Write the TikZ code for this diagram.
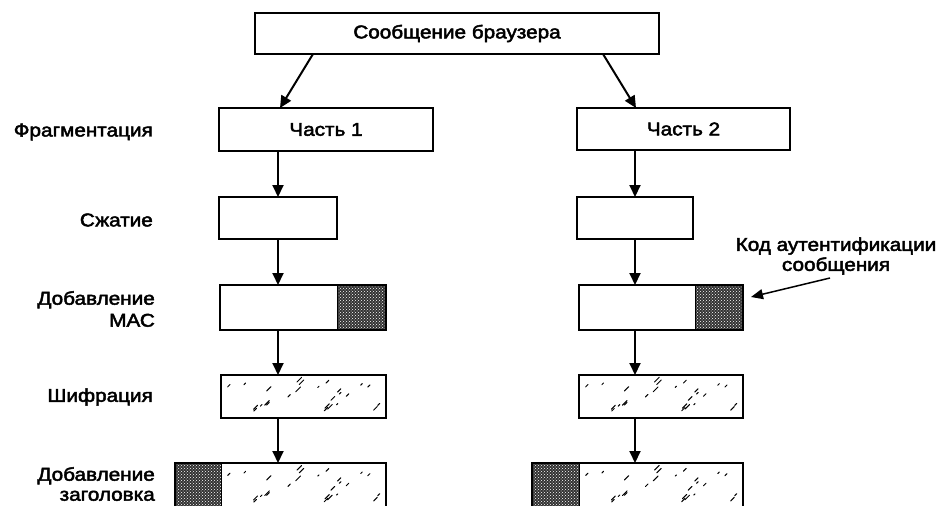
\documentclass[tikz,border=0pt]{standalone}
\usepackage{fontspec}
\setmainfont{Liberation Sans}[FakeStretch=1.12,FakeBold=2.5]
\usetikzlibrary{arrows.meta,patterns,backgrounds}
\tikzset{
  box/.style={draw,line width=2.2pt,inner sep=0pt,outer sep=0pt,font=\fontsize{18.5}{22}\selectfont},
  arr/.style={line width=2pt,-{Triangle[length=12pt,width=11pt]}},
  thinarr/.style={line width=1.5pt,-{Triangle[length=12pt,width=10pt]}},
  lbl/.style={anchor=east,align=right,inner sep=0pt,font=\fontsize{18.5}{22}\selectfont},
  darkfill/.style={fill=black!80},
  darkdots/.style={pattern=crosshatch dots,pattern color=white},
}
\newcommand\mySpeckle[4]{%
  \begin{scope}
    \clip (#1,#2) rectangle (#3,#4);
    \pgfmathsetseed{7}
    \foreach \k in {1,...,26}{
      \pgfmathsetmacro\xa{#1+6+rnd*(#3-#1-12)}
      \pgfmathsetmacro\ya{#2+6+rnd*(#4-#2-12)}
      \pgfmathsetmacro\ln{1+rnd*4}
      \draw[line width=1pt,line cap=round] (\xa,\ya) -- ++(\ln,-\ln);
    }
  \end{scope}}
\begin{document}
\begin{tikzpicture}[x=1pt,y=-1pt]
\useasboundingbox (0,0) rectangle (943,506);
% boxes
\node[box,minimum width=404pt,minimum height=41pt] (msg) at (457,33.5) {Сообщение браузера};
\node[box,minimum width=214pt,minimum height=43pt] (p1) at (326,129.5) {Часть 1};
\node[box,minimum width=213pt,minimum height=42pt] (p2) at (683.5,129) {Часть 2};
\node[box,minimum width=118pt,minimum height=42pt] (c1) at (278,218) {};
\node[box,minimum width=116pt,minimum height=42pt] (c2) at (635,218) {};
\node[box,minimum width=166pt,minimum height=45pt] (m1) at (303,307.5) {};
\node[box,minimum width=164pt,minimum height=45pt] (m2) at (661,307.5) {};
\node[box,minimum width=165pt,minimum height=43pt] (e1) at (303.5,396.5) {};
\node[box,minimum width=164pt,minimum height=43pt] (e2) at (661,396.5) {};
\node[box,minimum width=211pt,minimum height=46pt] (h1) at (280.5,486) {};
\node[box,minimum width=211pt,minimum height=46pt] (h2) at (637.5,486) {};
% fills
\begin{scope}[on background layer]
  \fill[darkfill] (337,285) rectangle (386,330);
  \fill[darkdots] (337,285) rectangle (386,330);
  \fill[darkfill] (695,285) rectangle (743,330);
  \fill[darkdots] (695,285) rectangle (743,330);
  \fill[darkfill] (175,463) rectangle (221,509);
  \fill[darkdots] (175,463) rectangle (221,509);
  \fill[darkfill] (532,463) rectangle (579,509);
  \fill[darkdots] (532,463) rectangle (579,509);
  \draw[line width=1pt] (337,285) -- (337,330);
  \draw[line width=1pt] (695,285) -- (695,330);
  \draw[line width=1pt] (221,463) -- (221,509);
  \draw[line width=1pt] (579,463) -- (579,509);
  \mySpeckle{221}{375}{386}{418}
  \mySpeckle{579}{375}{743}{418}
  \mySpeckle{221}{463}{386}{509}
  \mySpeckle{579}{463}{743}{509}
\end{scope}
% arrows
\coordinate (s1) at (313,54);
\coordinate (t1) at (280,108);
\coordinate (s2) at (603,54);
\coordinate (t2) at (636,108);
\draw[arr] (s1) -- (t1);
\draw[arr] (s2) -- (t2);
\draw[arr] (c1.north |- p1.south) -- (c1.north);
\draw[arr] (c1.south) -- (c1.south |- m1.north);
\draw[arr] (c1.south |- m1.south) -- (c1.south |- e1.north);
\draw[arr] (c1.south |- e1.south) -- (c1.south |- h1.north);
\draw[arr] (c2.north |- p2.south) -- (c2.north);
\draw[arr] (c2.south) -- (c2.south |- m2.north);
\draw[arr] (c2.south |- m2.south) -- (c2.south |- e2.north);
\draw[arr] (c2.south |- e2.south) -- (c2.south |- h2.north);
% labels
\node[lbl] (lf) at (153,132) {Фрагментация};
\node[lbl] (lc) at (153,220) {Сжатие};
\node[lbl] (lm) at (155,309) {Добавление\\МАС};
\node[lbl] (le) at (153,397) {Шифрация};
\node[lbl,font=\fontsize{18.5}{20}\selectfont] (lh) at (155,484) {Добавление\\заголовка};
\node[align=center,inner sep=0pt,font=\fontsize{18.5}{20}\selectfont] (mac) at (836,256) {Код аутентификации\\сообщения};
\coordinate (macs) at (830,278);
\coordinate (mact) at (751,297);
\draw[thinarr] (macs) -- (mact);
\end{tikzpicture}
\end{document}
